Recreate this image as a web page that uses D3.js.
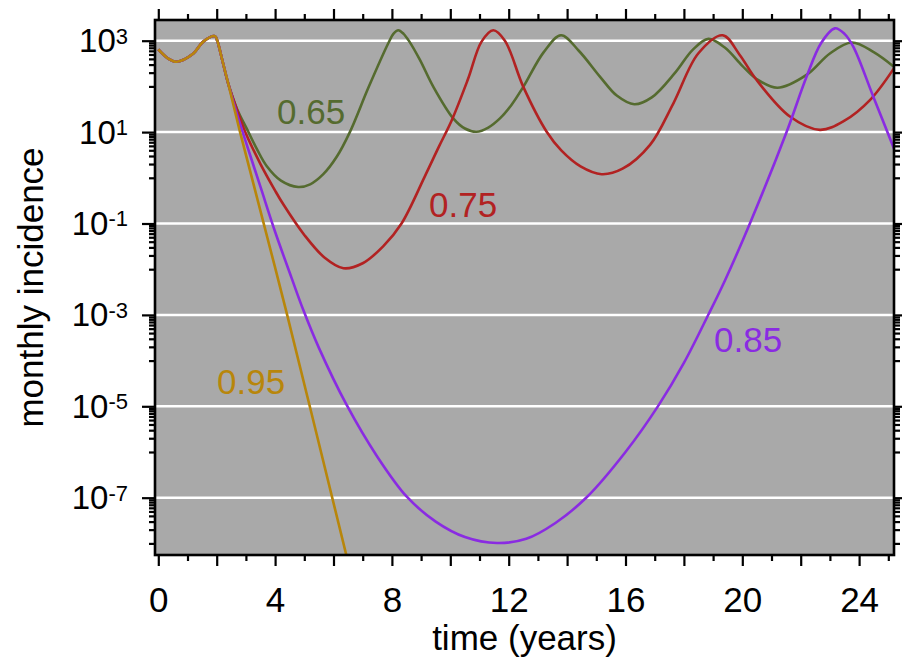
<!DOCTYPE html>
<html><head><meta charset="utf-8">
<script src="https://cdn.jsdelivr.net/npm/d3@7"></script>
<style>body{margin:0;background:#fff}svg{display:block}text{font-family:"Liberation Sans",Arial,Helvetica,sans-serif}</style>
</head><body><svg id="c" width="902" height="660"></svg>
<script>
// ---- data (incidence values) ----
const t65 = [0,0.34,0.63,1.2,1.54,1.94,2.02,2.2,2.4,2.7,3.05,3.4,3.71,4.2,4.79,5.2,5.65,6.11,6.56,7.2,7.88,8.05,8.22,8.4,8.6,8.96,9.42,10.1,10.5,10.9,11.3,11.7,12.1,12.5,13.2,13.79,14.4,15.13,15.7,16.3,16.9,17.7,18.3,18.84,19.4,20.0,20.49,21.2,22.2,23.0,23.75,24.5,25.25];
const v65 = [646,407,347,525,955,1259,1000,355,112,31.6,11.2,3.98,1.82,0.87,0.63,0.72,1.2,2.88,10,95.5,891,1413,1698,1413,955,380,97.7,20,12,10.2,12.6,20,39.8,97.7,562,1318,603,162,63,40.7,57.5,200,631,1096,708,282,145,93.3,178,525,912,562,251];
const t75 = [0,0.34,0.63,1.2,1.54,1.94,2.02,2.2,2.4,2.7,3.0,3.5,4.0,4.28,5.0,5.7,6.34,7.0,7.7,8.33,9.12,9.61,10.05,10.6,11.07,11.47,11.87,12.5,13.3,13.8,14.46,15.18,15.9,16.84,17.64,18.49,19.33,19.9,20.49,21.63,22.66,23.5,24.37,25.25];
const v75 = [646,407,347,525,955,1259,1000,355,112,30.2,9.3,2.0,0.525,0.263,0.0562,0.0178,0.0105,0.0135,0.0316,0.1,1.05,4.8,18.2,141,955,1698,1000,97.7,10.2,3.98,1.78,1.2,1.58,5.25,42.7,525,1318,501,138,21.9,11.2,17.8,50.1,282];
const t85 = [0,0.34,0.63,1.2,1.54,1.94,2.02,2.2,2.4,2.7,2.95,3.5,4.0,4.57,4.97,5.5,6.45,7.5,8.51,9.5,10.5,11.6,12.6,13.6,14.67,16.0,17.12,18.0,18.84,19.41,20.26,21.52,22.2,22.7,23.17,23.5,23.8,24.49,25.25];
const v85 = [646,407,347,525,955,1259,1000,355,112,24,7.6,0.63,0.066,6.3e-3,1.26e-3,1.9e-4,1.07e-5,7.9e-7,1.05e-7,3.0e-8,1.38e-8,1.02e-8,1.26e-8,2.8e-8,1.02e-7,1.0e-6,1.02e-5,8.9e-5,1.02e-3,5.75e-3,0.1,10.2,162,891,1862,1413,741,58.9,3.55];
const t95 = [0,0.34,0.63,1.2,1.54,1.94,2.02,2.2,2.4,2.8,4.4,6.45,6.7];
const v95 = [646,407,347,525,955,1259,1000,355,112,10,1.08e-3,5.2e-9,1.26e-9];
const seriesNames = ["0.65","0.75","0.85","0.95"];
const seriesColors = ["#556b2f","#b22222","#8a2be2","#b8860b"];
const xMajorTicks = [0,2,4,6,8,10,12,14,16,18,20,22,24];
const xLabelTicks = [0,4,8,12,16,20,24];
const xMinorTicks = [1,3,5,7,9,11,13,15,17,19,21,23,25];
const yMajorTicks = [1e3,1e1,1e-1,1e-3,1e-5,1e-7];
const yMajorExp = ["3","1","-1","-3","-5","-7"];
const yMinorBases = [1e2,1e0,1e-2,1e-4,1e-6,1e-8];
const yMinorMult = [1,2,3,4,5,6,7,8,9];
const yMinorTicks = [];
yMinorBases.forEach(b => yMinorMult.forEach(k => yMinorTicks.push(k*b)));

// ---- layout ----
const L=155, R=894, T=20, B=555;
const svg = d3.select("#c");
const x = d3.scaleLinear().domain([-0.113, 25.195]).range([L, R]);
const y = d3.scaleLog().domain([Math.pow(10,-8.254), Math.pow(10,3.453)]).range([B, T]);

svg.append("rect").attr("x",L).attr("y",T).attr("width",R-L).attr("height",B-T).attr("fill","#a9a9a9");
svg.append("defs").append("clipPath").attr("id","clip").append("rect")
  .attr("x",L).attr("y",T).attr("width",R-L).attr("height",B-T);

// grid
svg.append("g").selectAll("line").data(yMajorTicks).join("line")
  .attr("x1",L).attr("x2",R).attr("y1",d=>y(d)).attr("y2",d=>y(d))
  .attr("stroke","#fff").attr("stroke-width",2.5);

// lines
const line = d3.line().x(d=>x(d[0])).y(d=>y(d[1])).curve(d3.curveCatmullRom.alpha(0.5));
const sets = [[t65,v65],[t75,v75],[t85,v85],[t95,v95]];
const gl = svg.append("g").attr("clip-path","url(#clip)");
sets.forEach((s,i)=>{
  gl.append("path").datum(s[0].map((t,j)=>[t,s[1][j]]))
    .attr("d",line).attr("fill","none").attr("stroke",seriesColors[i]).attr("stroke-width",2.6)
    .attr("stroke-linejoin","round");
});

// labels
const labelPos = [[277,124],[429,217],[714,352],[217,394]];
labelPos.forEach((p,i)=>{
  svg.append("text").attr("x",p[0]).attr("y",p[1]).attr("font-size",35)
    .attr("fill",seriesColors[i]).text(seriesNames[i]);
});

// axes
function styleAxis(g){ g.select(".domain").remove(); g.selectAll("line").attr("stroke","#000").attr("stroke-width",2.2); }
const xb = d3.axisBottom(x).tickValues(xMajorTicks).tickSize(11).tickFormat(d=> xLabelTicks.includes(d)? String(d):"");
svg.append("g").attr("transform",`translate(0,${B})`).call(xb).call(styleAxis)
  .call(g=>g.selectAll("text").attr("font-size",35).attr("fill","#000").attr("y",57).attr("dy",0).attr("font-family","Liberation Sans, Arial, sans-serif"));
svg.append("g").attr("transform",`translate(0,${B})`).call(d3.axisBottom(x).tickValues(xMinorTicks.filter(v=>x(v)<R)).tickSize(6).tickFormat("")).call(styleAxis);
svg.append("g").attr("transform",`translate(0,${T})`).call(d3.axisTop(x).tickValues(xMajorTicks).tickSize(11).tickFormat("")).call(styleAxis);
svg.append("g").attr("transform",`translate(0,${T})`).call(d3.axisTop(x).tickValues(xMinorTicks.filter(v=>x(v)<R)).tickSize(6).tickFormat("")).call(styleAxis);

const yl = d3.axisLeft(y).tickValues(yMajorTicks).tickSize(13).tickFormat("");
svg.append("g").attr("transform",`translate(${L},0)`).call(yl).call(styleAxis);
svg.append("g").attr("transform",`translate(${L},0)`).call(d3.axisLeft(y).tickValues(yMinorTicks.filter(v=>y(v)>T&&y(v)<B)).tickSize(6).tickFormat("")).call(styleAxis);
svg.append("g").attr("transform",`translate(${R},0)`).call(d3.axisRight(y).tickValues(yMajorTicks).tickSize(13).tickFormat("")).call(styleAxis);
svg.append("g").attr("transform",`translate(${R},0)`).call(d3.axisRight(y).tickValues(yMinorTicks.filter(v=>y(v)>T&&y(v)<B)).tickSize(6).tickFormat("")).call(styleAxis);

// y tick labels with superscripts
const yt = svg.append("g").selectAll("text").data(yMajorTicks).join("text")
  .attr("x",128).attr("y",d=>y(d)+11.5).attr("text-anchor","end").attr("fill","#000");
yt.append("tspan").attr("font-size",33).text("10");
yt.append("tspan").attr("font-size",22).attr("dy",-8.5).text((d,i)=>yMajorExp[i]);

// frame
svg.append("rect").attr("x",L).attr("y",T).attr("width",R-L).attr("height",B-T)
  .attr("fill","none").attr("stroke","#000").attr("stroke-width",2.6);

// axis titles
svg.append("text").attr("x",(L+R)/2).attr("y",650).attr("text-anchor","middle").attr("font-size",35).text("time (years)");
svg.append("text").attr("transform",`translate(43,${(T+B)/2}) rotate(-90)`).attr("text-anchor","middle").attr("font-size",35).text("monthly incidence");
</script></body></html>
